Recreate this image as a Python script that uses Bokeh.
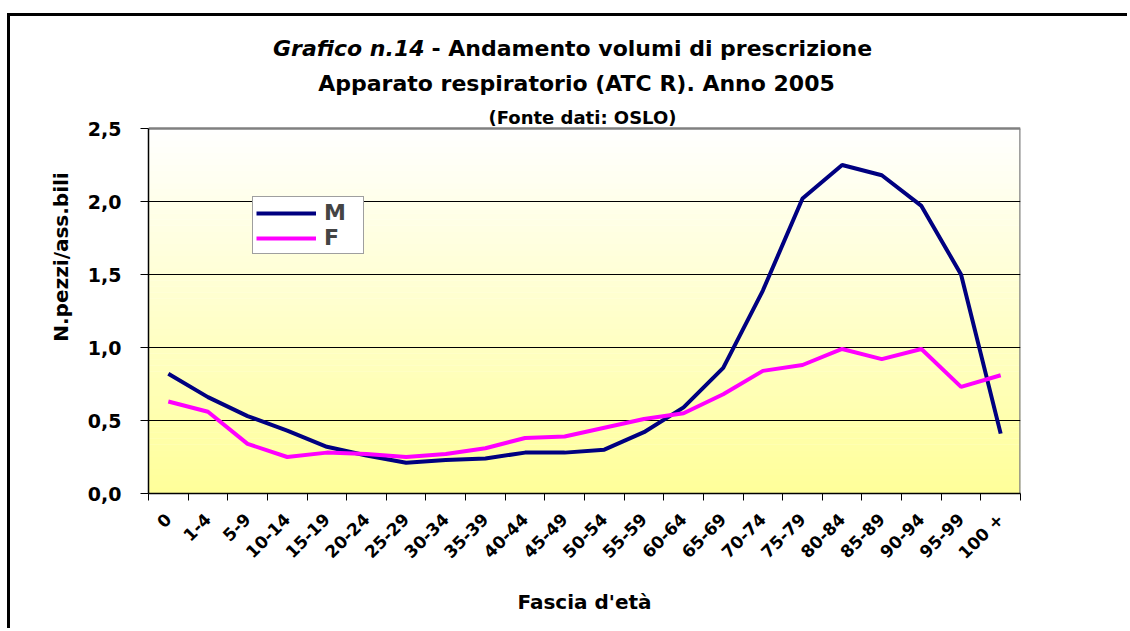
import numpy as np
from bokeh.plotting import figure
from bokeh.models import (FixedTicker, Legend, LegendItem, Label, Range1d)
from bokeh.embed import file_html
from bokeh.resources import INLINE

# ---------------- data ----------------
categories = ["0", "1-4", "5-9", "10-14", "15-19", "20-24", "25-29", "30-34",
              "35-39", "40-44", "45-49", "50-54", "55-59", "60-64", "65-69",
              "70-74", "75-79", "80-84", "85-89", "90-94", "95-99", "100 +"]
male = [0.82, 0.66, 0.53, 0.43, 0.32, 0.26, 0.21, 0.23, 0.24, 0.28, 0.28,
        0.30, 0.42, 0.59, 0.86, 1.39, 2.02, 2.25, 2.18, 1.97, 1.50, 0.41]
female = [0.63, 0.56, 0.34, 0.25, 0.28, 0.27, 0.25, 0.27, 0.31, 0.38, 0.39,
          0.45, 0.51, 0.55, 0.68, 0.84, 0.88, 0.99, 0.92, 0.99, 0.73, 0.81]
y_ticks = [0.0, 0.5, 1.0, 1.5, 2.0, 2.5]
y_tick_labels = ["0,0", "0,5", "1,0", "1,5", "2,0", "2,5"]
title_italic = "Grafico n.14"
title_rest = "- Andamento volumi di prescrizione"
title_line2 = "Apparato respiratorio (ATC R). Anno 2005"
title_line3 = "(Fonte dati: OSLO)"

FONT = "DejaVu Sans"
n = len(categories)
xs = list(range(n))
Y_MAX = y_ticks[-1]

# layout geometry (page pixels); bokeh's page template has no body margin
HOST_X, HOST_Y, BORDER = 7, 13, 3
CX, CY = HOST_X + BORDER, HOST_Y + BORDER
W, H = 1130 - CX, 631 - CY
FL, FT, FR, FB = 148, 128, 1020, 493   # plot area of the chart
TOP = CY + 4                            # frame extends up to hold titles
PX_PER_UNIT = (FB - FT) / Y_MAX
y_end = (FB - TOP) / PX_PER_UNIT

p = figure(width=W, height=H, output_backend="svg", toolbar_location=None,
           x_range=Range1d(-0.5, n - 0.5), y_range=Range1d(0, y_end),
           min_border_left=FL - CX, min_border_top=TOP - CY,
           min_border_right=1130 - FR, min_border_bottom=631 - FB)
p.styles = {"border-left": "3px solid black", "border-top": "3px solid black",
            "margin-top": "%dpx" % HOST_Y, "margin-left": "%dpx" % HOST_X}
p.background_fill_color = "white"
p.border_fill_color = "white"
p.outline_line_color = None


def px2x(px):
    return -0.5 + (px - FL) * n / (FR - FL)


def px2y(py):
    return (FB - py) / PX_PER_UNIT


# gradient background (white -> pale yellow)
nb = 60
edges = np.linspace(0, Y_MAX, nb + 1)
cols = []
for i in range(nb):
    t = (i + 0.5) / nb  # 0 bottom, 1 top
    b = int(round(153 + (255 - 153) * t))
    cols.append("#%02x%02x%02x" % (255, 255, b))
p.quad(left=-0.5, right=n - 0.5, bottom=edges[:-1],
       top=np.minimum(edges[1:] + 0.002, Y_MAX),
       fill_color=cols, line_color=None, level="underlay")

# grey plot-area border (top and right)
p.segment(x0=[-0.5, n - 0.5], y0=[Y_MAX, 0], x1=[n - 0.5, n - 0.5],
          y1=[Y_MAX, Y_MAX], line_color="#808080", line_width=2.5,
          level="underlay")

# grid
p.xgrid.visible = False
p.ygrid.ticker = FixedTicker(ticks=y_ticks[1:-1])
p.ygrid.grid_line_color = "black"
p.ygrid.grid_line_width = 1
p.ygrid.level = "underlay"

# lines
rm = p.line(xs, male, line_color="#000080", line_width=4)
rf = p.line(xs, female, line_color="#FF00FF", line_width=4)

# y axis
ya = p.yaxis[0]
ya.bounds = (0, Y_MAX)
ya.ticker = FixedTicker(ticks=y_ticks)
ya.major_label_overrides = dict(zip(y_ticks, y_tick_labels))
ya.major_label_text_font = FONT
ya.major_label_text_font_style = "bold"
ya.major_label_text_font_size = "19px"
ya.major_label_text_color = "black"
ya.major_tick_out = 8
ya.major_tick_in = 0
ya.minor_tick_out = 0
ya.minor_tick_in = 0
ya.major_label_standoff = 19
ya.axis_line_color = "black"
ya.axis_line_width = 1.5
ya.major_tick_line_color = "black"
ya.axis_label = "N.pezzi/ass.bili"
ya.axis_label_text_font = FONT
ya.axis_label_text_font_style = "bold"
ya.axis_label_text_font_size = "20px"
ya.axis_label_text_color = "black"
ya.axis_label_standoff = 12

# x axis
xa = p.xaxis[0]
xa.ticker = FixedTicker(ticks=xs, minor_ticks=[i - 0.5 for i in range(n + 1)])
xa.major_label_overrides = {i: c for i, c in enumerate(categories)}
xa.major_label_orientation = np.pi / 4
xa.major_label_text_font = FONT
xa.major_label_text_font_style = "bold"
xa.major_label_text_font_size = "17px"
xa.major_label_text_color = "black"
xa.major_tick_out = 0
xa.major_tick_in = 0
xa.minor_tick_out = 7
xa.minor_tick_in = 0
xa.minor_tick_line_color = "black"
xa.major_label_standoff = 16
xa.axis_line_color = "black"
xa.axis_line_width = 1.5
xa.axis_label = "Fascia d'età"
xa.axis_label_text_font = FONT
xa.axis_label_text_font_style = "bold"
xa.axis_label_text_font_size = "20px"
xa.axis_label_text_color = "black"
xa.axis_label_standoff = 17

# legend
legend = Legend(items=[LegendItem(label="M", renderers=[rm]),
                       LegendItem(label="F", renderers=[rf])],
                location=(252 - FL, FB - 254),
                glyph_width=60, glyph_height=18, label_height=18,
                label_width=36, label_standoff=8, spacing=0, padding=3,
                margin=0,
                label_text_font=FONT, label_text_font_style="bold",
                label_text_font_size="22px",
                border_line_color="#404040", border_line_width=1,
                background_fill_color="white", background_fill_alpha=1)
p.add_layout(legend)

# titles
tkw = dict(text_font=FONT, text_color="black", text_baseline="middle")
p.add_layout(Label(x=px2x(424), y=px2y(48), text=title_italic,
                   text_align="right", text_font_size="22px",
                   text_font_style="bold italic", **tkw))
p.add_layout(Label(x=px2x(431), y=px2y(48), text=title_rest,
                   text_align="left", text_font_size="22px",
                   text_font_style="bold", **tkw))
p.add_layout(Label(x=px2x(576), y=px2y(83), text=title_line2,
                   text_align="center", text_font_size="22px",
                   text_font_style="bold", **tkw))
p.add_layout(Label(x=px2x(582), y=px2y(117), text=title_line3,
                   text_align="center", text_font_size="18px",
                   text_font_style="bold", **tkw))

open("out.html", "w").write(file_html(p, INLINE))
